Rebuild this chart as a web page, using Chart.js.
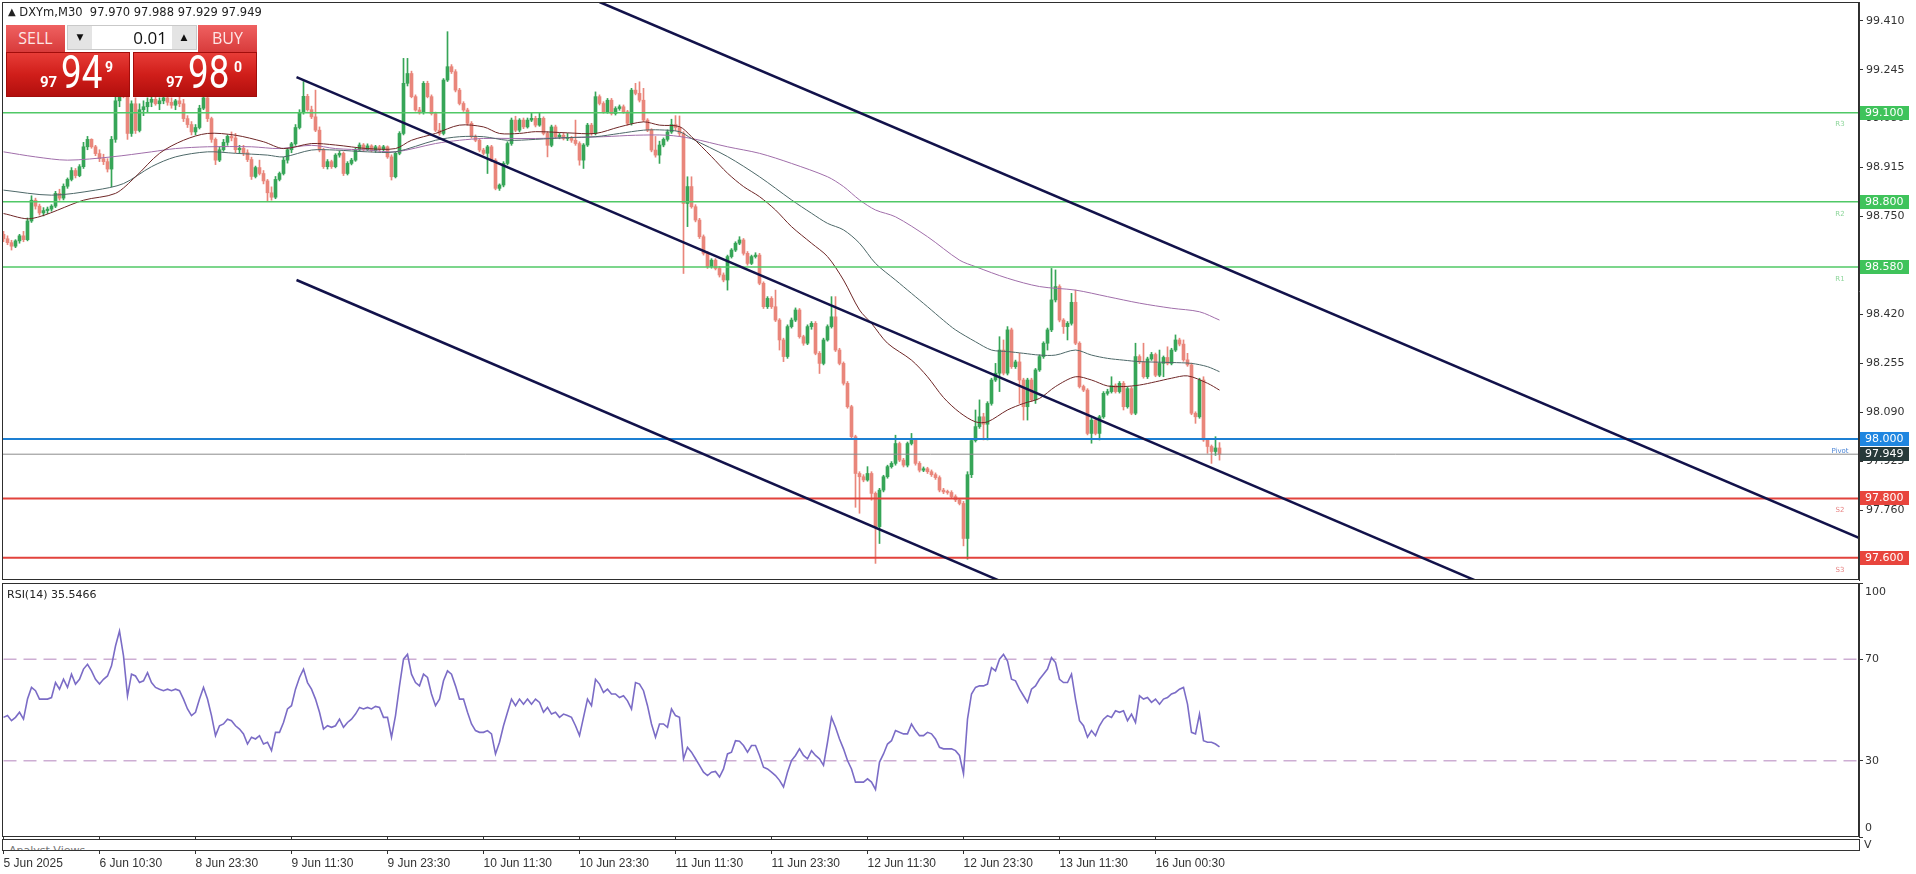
<!DOCTYPE html>
<html>
<head>
<meta charset="utf-8">
<script src="https://cdn.jsdelivr.net/npm/chart.js@4.4.1/dist/chart.umd.min.js"></script>
<style>
body { margin:0; width:1916px; height:874px; position:relative; overflow:hidden; background:#fff; font-family:'DejaVu Sans', sans-serif; }
canvas { position:absolute; left:0; }
#hdr { position:absolute; left:8px; top:5px; font-size:11.5px; color:#222; white-space:pre; }
#hdr b { font-size:10px; font-weight:normal; position:relative; top:-1px; }
#trade { position:absolute; left:6px; top:25px; width:251px; height:72px; }
.tbtn { position:absolute; top:0; width:59px; height:27px; background:linear-gradient(#ef6161,#d83b3b); color:#fde6e6; font:16px 'Open Sans', sans-serif; line-height:27px; text-align:center; }
#vol { position:absolute; left:61px; top:0; width:130px; height:25px; background:#fff; border:1px solid #c9c9c9; box-sizing:border-box; }
.arr { position:absolute; top:0; width:24px; height:23px; background:#e4e4e4; font-size:9px; line-height:23px; text-align:center; color:#111; }
#lot { position:absolute; left:24px; width:80px; top:0; height:23px; line-height:23px; text-align:right; font:17px 'Open Sans', sans-serif; color:#111; padding-right:5px; box-sizing:border-box; }
.pbox { position:absolute; top:27px; width:124px; height:45px; background:linear-gradient(#e73c37 0%, #d01e1a 50%, #b20f0d 100%); border:1px solid #a20d0b; box-sizing:border-box; color:#fff; }
.pbox span { position:absolute; font-family:'Roboto', sans-serif; line-height:1; }
.s { font-size:15px; font-weight:bold; top:22px; }
.b { font-size:46px; top:-4px; transform:scaleX(0.8); transform-origin:left top; }
.u { font-size:14px; font-weight:bold; top:7px; }
#rsiT { position:absolute; left:7px; top:588px; font-size:11px; color:#222; }
#av { position:absolute; left:2px; top:839px; width:1858px; height:12px; border:1px solid #333; box-sizing:border-box; overflow:hidden; background:#fff; }
#av span { position:absolute; left:6px; top:4px; font-size:11px; color:#777; }
#vv { position:absolute; left:1864px; top:838px; font-size:11px; color:#333; }
</style>
</head>
<body>
<canvas id="main" width="1916" height="584" style="top:0;width:1916px;height:584px"></canvas>
<canvas id="rsi" width="1916" height="292" style="top:582px;width:1916px;height:292px"></canvas>
<div id="hdr"><b>&#9650;</b> DXYm,M30  97.970 97.988 97.929 97.949</div>
<div id="trade">
  <div class="tbtn" style="left:0">SELL</div>
  <div id="vol"><div class="arr" style="left:0">&#9660;</div><div id="lot">0.01</div><div class="arr" style="right:0">&#9650;</div></div>
  <div class="tbtn" style="left:192px">BUY</div>
  <div class="pbox" style="left:0"><span class="s" style="left:33px">97</span><span class="b" style="left:54px">94</span><span class="u" style="left:98px">9</span></div>
  <div class="pbox" style="left:127px"><span class="s" style="left:32px">97</span><span class="b" style="left:54px">98</span><span class="u" style="left:100px">0</span></div>
</div>
<div id="rsiT">RSI(14) 35.5466</div>
<div id="av"><span>Analyst Views</span></div>
<div id="vv">V</div>
<script>
// time axis
const tickIdx = [0,24,48,72,96,120,144,168,192,216,240,264,288];
const tickText = ['5 Jun 2025','6 Jun 10:30','8 Jun 23:30','9 Jun 11:30','9 Jun 23:30','10 Jun 11:30','10 Jun 23:30','11 Jun 11:30','11 Jun 23:30','12 Jun 11:30','12 Jun 23:30','13 Jun 11:30','16 Jun 00:30'];
const priceTicks = [99.410,99.245,99.080,98.915,98.750,98.585,98.420,98.255,98.090,97.925,97.760,97.595];

// M30 candles, one entry per bar
const opens = [
98.690,98.675,98.662,98.650,98.668,98.685,98.672,98.735,98.805,98.785,
98.762,98.770,98.775,98.785,98.828,98.812,98.852,98.875,98.905,98.888,
98.918,98.985,99.010,98.985,98.962,98.945,98.935,98.910,99.010,99.140,
99.185,99.160,99.030,99.130,99.040,99.110,99.120,99.135,99.145,99.130,
99.140,99.150,99.135,99.125,99.140,99.130,99.080,99.060,99.035,99.050,
99.115,99.150,99.080,99.010,98.940,98.975,99.000,99.020,99.015,98.975,
98.980,98.965,98.942,98.885,98.915,98.895,98.870,98.830,98.815,98.875,
98.895,98.940,98.975,98.995,99.050,99.100,99.155,99.110,99.086,99.041,
98.974,98.918,98.935,98.918,98.957,98.963,98.895,98.929,98.940,98.974,
98.991,98.975,98.988,98.972,98.985,98.976,98.985,98.951,98.884,98.963,
99.030,99.199,99.232,99.154,99.109,99.100,99.199,99.154,99.097,99.041,
99.030,99.210,99.255,99.238,99.176,99.131,99.109,99.064,99.019,99.007,
98.974,98.963,98.985,98.940,98.845,98.856,98.929,98.996,99.075,99.041,
99.075,99.052,99.075,99.081,99.058,99.081,99.030,98.990,99.052,99.019,
99.024,99.013,99.015,99.007,98.996,98.940,98.991,99.058,99.030,99.154,
99.131,99.103,99.142,99.097,99.114,99.120,99.103,99.064,99.176,99.165,
99.142,99.075,99.041,98.974,98.957,98.991,99.010,99.035,99.060,99.050,
99.030,98.794,98.851,98.783,98.738,98.682,98.626,98.581,98.603,98.575,
98.553,98.536,98.615,98.637,98.660,98.671,98.626,98.592,98.615,98.620,
98.525,98.446,98.474,98.446,98.401,98.334,98.278,98.379,98.401,98.435,
98.345,98.323,98.379,98.390,98.289,98.255,98.334,98.379,98.412,98.300,
98.255,98.188,98.109,98.008,97.884,97.873,97.862,97.884,97.817,97.705,
97.828,97.873,97.907,97.918,97.985,97.929,97.912,97.985,97.996,97.918,
97.895,97.900,97.890,97.880,97.870,97.828,97.822,97.820,97.806,97.795,
97.783,97.665,97.880,97.995,98.042,98.075,98.050,98.120,98.199,98.222,
98.300,98.222,98.368,98.244,98.260,98.199,98.109,98.199,98.132,98.233,
98.278,98.323,98.368,98.469,98.514,98.401,98.379,98.390,98.461,98.323,
98.177,98.165,98.019,98.064,98.019,98.075,98.154,98.160,98.180,98.160,
98.188,98.109,98.170,98.087,98.278,98.260,98.210,98.270,98.285,98.215,
98.255,98.275,98.255,98.300,98.334,98.320,98.267,98.250,98.087,98.075,
98.199,97.997,97.975,97.958,97.970];
const highs = [
98.700,98.685,98.670,98.672,98.690,98.700,98.745,98.820,98.812,98.792,
98.780,98.782,98.790,98.835,98.842,98.860,98.880,98.915,98.912,98.925,
99.000,99.020,99.012,98.990,98.975,98.960,98.945,99.020,99.170,99.200,
99.205,99.170,99.140,99.150,99.130,99.140,99.150,99.160,99.160,99.150,
99.165,99.165,99.150,99.145,99.155,99.145,99.090,99.070,99.060,99.125,
99.160,99.155,99.085,99.015,98.985,99.010,99.025,99.035,99.030,98.990,
98.990,98.975,98.950,98.920,98.940,98.905,98.875,98.850,98.885,98.900,
98.950,98.980,99.000,99.060,99.110,99.205,99.162,99.122,99.176,99.052,
98.980,98.942,98.940,98.962,98.970,98.968,98.935,98.946,98.980,98.998,
98.996,98.995,98.992,98.990,98.990,98.990,98.988,98.958,98.968,99.036,
99.283,99.283,99.240,99.160,99.118,99.205,99.206,99.160,99.102,99.064,
99.215,99.373,99.262,99.245,99.182,99.137,99.115,99.070,99.025,99.012,
98.980,98.990,98.990,98.945,98.860,98.935,99.002,99.082,99.088,99.080,
99.082,99.082,99.100,99.088,99.100,99.086,99.036,99.058,99.058,99.030,
99.030,99.030,99.020,99.075,99.002,98.996,99.064,99.064,99.170,99.160,
99.137,99.148,99.148,99.120,99.126,99.126,99.108,99.182,99.199,99.204,
99.182,99.080,99.046,99.020,99.004,99.015,99.042,99.078,99.090,99.089,
99.036,98.884,98.884,98.790,98.744,98.688,98.632,98.608,98.608,98.582,
98.560,98.620,98.642,98.665,98.682,98.676,98.632,98.620,98.628,98.626,
98.530,98.480,98.480,98.502,98.406,98.340,98.385,98.408,98.442,98.440,
98.350,98.385,98.396,98.396,98.295,98.340,98.385,98.480,98.480,98.306,
98.260,98.194,98.114,98.013,97.890,97.880,97.907,97.890,97.822,97.834,
97.878,97.912,97.924,98.013,97.990,97.935,97.990,98.019,98.002,97.924,
97.906,97.905,97.896,97.886,97.876,97.834,97.828,97.826,97.812,97.800,
97.790,97.890,98.000,98.098,98.132,98.087,98.126,98.205,98.255,98.345,
98.334,98.379,98.374,98.266,98.289,98.205,98.205,98.205,98.238,98.284,
98.328,98.374,98.575,98.570,98.520,98.406,98.396,98.491,98.502,98.328,
98.182,98.170,98.070,98.070,98.080,98.160,98.168,98.210,98.186,98.194,
98.194,98.176,98.176,98.323,98.284,98.323,98.276,98.292,98.290,98.300,
98.280,98.311,98.306,98.351,98.340,98.334,98.289,98.256,98.092,98.205,
98.210,98.002,97.980,98.008,97.988];
const lows = [
98.665,98.655,98.637,98.645,98.660,98.665,98.668,98.730,98.775,98.755,
98.752,98.760,98.768,98.780,98.805,98.806,98.845,98.870,98.880,98.884,
98.912,98.975,98.980,98.955,98.935,98.925,98.900,98.850,99.000,99.120,
99.150,99.010,99.020,99.030,99.035,99.090,99.100,99.120,99.125,99.110,
99.130,99.125,99.115,99.110,99.120,99.070,99.050,99.025,99.025,99.045,
99.110,99.070,99.000,98.925,98.935,98.970,98.990,99.005,98.965,98.965,
98.955,98.935,98.875,98.880,98.890,98.860,98.800,98.805,98.810,98.870,
98.890,98.930,98.965,98.990,99.045,99.095,99.105,99.080,99.036,98.968,
98.912,98.910,98.912,98.914,98.950,98.888,98.890,98.924,98.936,98.970,
98.970,98.972,98.968,98.966,98.970,98.972,98.946,98.873,98.880,98.958,
99.025,99.190,99.150,99.105,99.095,99.095,99.150,99.092,99.036,99.024,
99.025,99.205,99.232,99.170,99.126,99.104,99.058,99.014,99.002,98.968,
98.958,98.895,98.935,98.840,98.838,98.850,98.924,98.990,99.036,99.035,
99.046,99.048,99.070,99.052,99.054,99.025,98.951,98.985,99.014,99.012,
99.008,99.006,99.000,98.990,98.923,98.912,98.986,99.024,99.025,99.126,
99.098,99.098,99.092,99.092,99.108,99.098,99.058,99.058,99.160,99.136,
99.070,99.036,98.968,98.950,98.929,98.985,99.004,99.030,99.040,99.020,
98.558,98.716,98.778,98.732,98.676,98.620,98.575,98.576,98.570,98.546,
98.530,98.502,98.610,98.632,98.655,98.620,98.586,98.588,98.610,98.520,
98.440,98.440,98.440,98.396,98.300,98.261,98.272,98.374,98.396,98.340,
98.316,98.318,98.370,98.284,98.221,98.250,98.330,98.374,98.295,98.250,
98.182,98.104,98.002,97.770,97.750,97.856,97.858,97.794,97.581,97.648,
97.822,97.868,97.902,97.912,97.924,97.906,97.906,97.980,97.912,97.889,
97.890,97.884,97.874,97.864,97.822,97.816,97.814,97.800,97.789,97.778,
97.640,97.595,97.870,97.990,98.036,97.997,97.997,98.114,98.194,98.160,
98.216,98.216,98.238,98.238,98.120,98.064,98.064,98.126,98.120,98.228,
98.272,98.300,98.362,98.462,98.395,98.356,98.334,98.384,98.318,98.172,
98.160,98.014,97.986,98.014,97.997,98.070,98.148,98.155,98.155,98.155,
98.098,98.104,98.082,98.082,98.254,98.205,98.204,98.265,98.210,98.210,
98.210,98.250,98.250,98.295,98.314,98.262,98.245,98.082,98.053,98.070,
97.992,97.952,97.918,97.945,97.929];
const closes = [
98.675,98.662,98.650,98.668,98.685,98.672,98.735,98.805,98.785,98.762,
98.770,98.775,98.785,98.828,98.812,98.852,98.875,98.905,98.888,98.918,
98.985,99.010,98.985,98.962,98.945,98.935,98.910,99.010,99.140,99.185,
99.160,99.030,99.130,99.040,99.110,99.120,99.135,99.145,99.130,99.140,
99.150,99.135,99.125,99.140,99.130,99.080,99.060,99.035,99.050,99.115,
99.150,99.080,99.010,98.940,98.975,99.000,99.020,99.015,98.975,98.980,
98.965,98.942,98.885,98.915,98.895,98.870,98.830,98.815,98.875,98.895,
98.940,98.975,98.995,99.050,99.100,99.155,99.110,99.086,99.041,98.974,
98.918,98.935,98.918,98.957,98.963,98.895,98.929,98.940,98.974,98.991,
98.975,98.988,98.972,98.985,98.976,98.985,98.951,98.884,98.963,99.030,
99.199,99.232,99.154,99.109,99.100,99.199,99.154,99.097,99.041,99.030,
99.210,99.255,99.238,99.176,99.131,99.109,99.064,99.019,99.007,98.974,
98.963,98.985,98.940,98.845,98.856,98.929,98.996,99.075,99.041,99.075,
99.052,99.075,99.081,99.058,99.081,99.030,98.990,99.052,99.019,99.024,
99.013,99.015,99.007,98.996,98.940,98.991,99.058,99.030,99.154,99.131,
99.103,99.142,99.097,99.114,99.120,99.103,99.064,99.176,99.165,99.142,
99.075,99.041,98.974,98.957,98.991,99.010,99.035,99.060,99.050,99.030,
98.794,98.851,98.783,98.738,98.682,98.626,98.581,98.603,98.575,98.553,
98.536,98.615,98.637,98.660,98.671,98.626,98.592,98.615,98.620,98.525,
98.446,98.474,98.446,98.401,98.334,98.278,98.379,98.401,98.435,98.345,
98.323,98.379,98.390,98.289,98.255,98.334,98.379,98.412,98.300,98.255,
98.188,98.109,98.008,97.884,97.873,97.862,97.884,97.817,97.705,97.828,
97.873,97.907,97.918,97.985,97.929,97.912,97.985,97.996,97.918,97.895,
97.900,97.890,97.880,97.870,97.828,97.822,97.820,97.806,97.795,97.783,
97.665,97.880,97.995,98.042,98.075,98.050,98.120,98.199,98.222,98.300,
98.222,98.368,98.244,98.260,98.199,98.109,98.199,98.132,98.233,98.278,
98.323,98.368,98.469,98.514,98.401,98.379,98.390,98.461,98.323,98.177,
98.165,98.019,98.064,98.019,98.075,98.154,98.160,98.180,98.160,98.188,
98.109,98.170,98.087,98.278,98.260,98.210,98.270,98.285,98.215,98.255,
98.275,98.255,98.300,98.334,98.320,98.267,98.250,98.087,98.075,98.199,
97.997,97.975,97.958,97.970,97.949];

// moving averages, read at sample bars
const maFastIdx = [0,7,20,28,33,39,45,51,58,65,70,77,83,91,98,102,108,114,120,124,129,133,141,148,154,160,164,169,172,177,181,185,189,193,197,202,206,210,214,217,221,227,231,235,239,243,246,251,255,259,263,268,272,276,280,284,288,292,296,301,304];
const maFast = [98.760,98.743,98.805,98.828,98.884,98.963,99.007,99.030,99.024,99.002,98.979,98.996,98.991,98.979,98.979,99.007,99.030,99.058,99.052,99.030,99.030,99.036,99.032,99.030,99.052,99.069,99.058,99.053,99.019,98.952,98.896,98.851,98.817,98.772,98.716,98.660,98.615,98.536,98.435,98.390,98.323,98.266,98.210,98.140,98.090,98.058,98.058,98.098,98.120,98.137,98.177,98.210,98.199,98.179,98.177,98.182,98.193,98.205,98.213,98.188,98.165];
const maMidIdx = [0,12,23,30,37,43,51,58,66,70,77,83,91,98,108,114,120,126,133,141,148,154,160,164,169,172,181,189,197,202,206,210,214,218,223,227,231,235,238,243,247,251,255,259,263,268,272,276,280,284,292,297,301,304];
const maMid = [98.839,98.822,98.839,98.861,98.918,98.951,98.968,98.963,98.957,98.951,98.974,98.974,98.968,98.968,99.007,99.019,99.019,99.007,99.010,99.016,99.019,99.030,99.041,99.042,99.036,99.013,98.952,98.884,98.806,98.761,98.727,98.705,98.660,98.592,98.536,98.491,98.446,98.400,98.368,98.328,98.300,98.295,98.289,98.283,98.283,98.300,98.283,98.272,98.266,98.261,98.258,98.255,98.244,98.227];
const maSlowIdx = [0,8,16,27,37,43,51,62,69,77,83,91,98,108,114,120,133,141,150,158,166,172,181,189,197,206,210,214,218,223,231,239,243,251,259,268,276,284,292,299,304];
const maSlow = [98.968,98.951,98.940,98.951,98.968,98.979,98.985,98.985,98.979,98.990,98.979,98.974,98.968,98.996,99.007,99.013,99.013,99.016,99.019,99.024,99.024,99.013,98.985,98.963,98.929,98.884,98.851,98.806,98.772,98.749,98.682,98.603,98.581,98.542,98.514,98.502,98.480,98.458,98.441,98.429,98.401];

// pivot levels and price lines
const levelValues = [99.100, 98.800, 98.580, 98.000, 97.800, 97.600];
const levelNames = ['R3', 'R2', 'R1', 'Pivot', 'S2', 'S3'];
const bidPrice = 97.949;

// trend channel: start bar, start price, end bar, end price
const chanX1 = [149, 73.25, 73.25];
const chanY1 = [99.473, 99.220, 98.536];
const chanX2 = [466, 375, 255];
const chanY2 = [97.655, 97.483, 97.488];

// RSI(14), one entry per bar
const rsiValues = [
47.1,47.8,45.8,47.1,49.1,46.4,54.3,58.9,57.6,54.3,
54.3,54.3,54.9,60.8,58.2,62.1,58.9,64.1,60.2,62.1,
66.1,68.0,65.4,62.1,60.2,62.1,63.4,67.4,75.2,81.1,
71.3,55.6,64.1,63.4,60.8,61.5,64.7,60.8,58.9,58.2,
57.6,58.2,57.6,58.2,57.6,54.3,50.4,47.8,49.1,54.3,
58.9,54.3,47.8,39.9,43.8,44.5,46.4,45.8,43.8,42.5,
40.6,36.6,39.3,38.6,39.9,36.6,37.3,34.0,41.2,41.2,
45.1,50.4,51.7,58.2,62.8,66.1,60.8,58.2,54.3,49.1,
42.5,43.8,43.2,43.8,46.4,43.2,45.1,46.4,48.4,51.0,
50.4,51.0,50.4,51.4,51.0,47.1,47.1,39.3,47.8,59.5,
70.0,71.9,64.1,60.8,59.5,64.1,62.8,56.3,51.7,54.3,
61.5,65.4,64.1,59.5,54.3,54.3,49.1,44.5,41.9,41.2,
41.2,41.9,40.6,32.7,37.3,43.8,49.1,54.3,51.7,54.3,
52.3,54.3,52.3,54.3,53.0,49.1,51.0,48.4,49.1,47.1,
48.4,47.8,47.1,43.8,39.9,47.1,54.3,51.7,62.1,60.2,
56.9,58.2,56.3,56.3,54.9,55.6,53.6,50.4,60.8,60.2,
57.6,51.7,44.5,39.3,44.5,44.5,43.2,50.4,47.8,47.1,
30.8,35.3,33.4,30.8,28.2,25.5,24.2,25.5,25.8,23.6,
26.8,32.7,33.4,37.9,37.7,36.0,33.4,36.0,36.0,32.1,
27.5,26.8,25.5,24.2,22.3,19.7,25.5,30.1,32.1,34.7,
32.1,30.8,34.0,32.1,30.8,28.2,37.3,47.1,43.2,38.6,
34.7,30.1,26.8,21.6,21.6,21.6,22.9,21.6,18.7,29.5,
32.7,36.6,37.9,41.9,41.2,40.6,40.6,44.5,41.9,39.9,
39.9,41.2,40.6,38.6,35.3,34.7,34.7,34.7,34.0,32.1,
24.9,46.4,56.3,58.9,59.5,59.5,60.2,66.7,65.4,70.0,
71.9,69.3,62.1,61.5,58.2,55.6,53.0,58.2,59.5,62.1,
64.1,66.1,70.6,68.7,62.1,60.8,60.8,64.1,54.3,45.8,
43.8,39.3,41.9,39.9,43.8,46.4,47.8,47.1,49.7,49.1,
49.7,45.8,48.4,45.1,55.6,54.3,54.9,53.0,54.3,52.3,
54.3,54.9,56.3,56.9,58.2,58.9,52.3,41.2,40.6,48.4,
37.9,37.3,37.3,36.6,35.5];
const rsiLevels = [70, 30];
const rsiTicks = [100, 70, 30, 0];

// ---- styling ----
const BULL = '#36a557', BEAR = '#e9867b';
const GREEN = '#50c866', BLUE = '#1d7fd2', RED = '#e2433c';
const levelColors = [GREEN, GREEN, GREEN, BLUE, RED, RED];
const levelWidths = [1.5, 1.5, 1.5, 2, 2, 2];
const levelTextColors = ['#8ed69b', '#8ed69b', '#8ed69b', '#4d86d6', '#e88585', '#e88585'];
const tagColors = ['#3fc35b', '#3fc35b', '#3fc35b', '#1f86e0', '#e8453d', '#e8453d'];
const X_MIN = -0.375, X_MAX = 463.875;

const pts = (idx, vals) => idx.map((x, k) => ({ x: x, y: vals[k] }));
const candleColor = c => closes[c.dataIndex] >= opens[c.dataIndex] ? BULL : BEAR;
const hline = (v, color, w) => ({ type: 'line', data: [{ x: -5, y: v }, { x: 470, y: v }], borderColor: color, borderWidth: w, pointRadius: 0, clip: 0, order: 1 });
// keep the plot area where we put it: no extra room for edge labels
const noPad = s => { s.paddingTop = 0; s.paddingBottom = 0; s.paddingLeft = 0; s.paddingRight = 0; };

const frame = {
  id: 'frame',
  afterDraw(chart) {
    const a = chart.chartArea, c = chart.ctx;
    c.save();
    c.strokeStyle = '#2e2e2e';
    c.lineWidth = 1;
    c.strokeRect(Math.round(a.left) + 0.5, Math.round(a.top) + 0.5, Math.round(a.right - a.left) - 1, Math.round(a.bottom - a.top) - 1);
    c.restore();
  }
};

const priceTags = {
  id: 'priceTags',
  afterDraw(chart) {
    const c = chart.ctx, y = chart.scales.y, a = chart.chartArea;
    c.save();
    // small pivot names under each level
    c.font = '7px "DejaVu Sans"';
    c.textAlign = 'center';
    c.textBaseline = 'middle';
    levelValues.forEach((v, k) => {
      c.fillStyle = levelTextColors[k];
      c.fillText(levelNames[k], a.right - 19, y.getPixelForValue(v) + 12);
    });
    // tags on the price axis
    const tags = levelValues.map((v, k) => [v, tagColors[k]]);
    tags.push([bidPrice, '#273a3a']);
    c.font = '11px "DejaVu Sans"';
    c.textAlign = 'left';
    tags.forEach(t => {
      const py = Math.round(y.getPixelForValue(t[0]));
      c.fillStyle = t[1];
      c.fillRect(a.right + 1, py - 7, 49, 14);
      c.fillStyle = '#fff';
      c.fillText(t[0].toFixed(3), a.right + 6, py + 0.5);
    });
    c.restore();
  }
};

const datasets = [];
levelValues.forEach((v, k) => datasets.push(hline(v, levelColors[k], levelWidths[k])));
datasets.push(hline(bidPrice, '#8c8c8c', 1));
chanX1.forEach((x, k) => datasets.push({ type: 'line', data: [{ x: x, y: chanY1[k] }, { x: chanX2[k], y: chanY2[k] }], borderColor: '#12124a', borderWidth: 2.5, pointRadius: 0, clip: 0, order: 0 }));
datasets.push({ type: 'line', data: pts(maFastIdx, maFast), borderColor: '#6e2626', borderWidth: 1, pointRadius: 0, tension: 0.3, clip: 0, order: 5 });
datasets.push({ type: 'line', data: pts(maMidIdx, maMid), borderColor: '#4d6868', borderWidth: 1, pointRadius: 0, tension: 0.3, clip: 0, order: 5 });
datasets.push({ type: 'line', data: pts(maSlowIdx, maSlow), borderColor: '#a06eaa', borderWidth: 1, pointRadius: 0, tension: 0.3, clip: 0, order: 5 });
datasets.push({ type: 'bar', data: closes.map((c, i) => ({ x: i, y: [lows[i], highs[i]] })), backgroundColor: candleColor, barThickness: 1, grouped: false, minBarLength: 1, order: 20 });
datasets.push({ type: 'bar', data: closes.map((c, i) => ({ x: i, y: [opens[i], c] })), backgroundColor: candleColor, barThickness: 3, grouped: false, minBarLength: 1, order: 19 });

new Chart(document.getElementById('main'), {
  type: 'bar',
  data: { datasets: datasets },
  options: {
    responsive: false,
    animation: false,
    devicePixelRatio: 1,
    layout: { padding: { top: 2, left: 2, right: 0, bottom: 4 } },
    plugins: { legend: { display: false }, tooltip: { enabled: false } },
    scales: {
      x: { type: 'linear', min: X_MIN, max: X_MAX, offset: false, display: false, grid: { offset: false } },
      y: {
        position: 'right', min: 97.525, max: 99.473,
        afterFit: s => { s.width = 57; noPad(s); },
        afterBuildTicks: s => { s.ticks = priceTicks.map(v => ({ value: v })); },
        ticks: { autoSkip: false, padding: 3, color: '#333', font: { family: 'DejaVu Sans', size: 11 }, callback: v => v.toFixed(3) },
        grid: { drawOnChartArea: false, tickLength: 4, color: '#333' },
        border: { color: '#333' }
      }
    }
  },
  plugins: [frame, priceTags]
});

const rsiLabels = {
  id: 'rsiLabels',
  afterDraw(chart) {
    const c = chart.ctx, y = chart.scales.y, a = chart.chartArea;
    c.save();
    c.font = '11px "DejaVu Sans"';
    c.fillStyle = '#333';
    c.textBaseline = 'middle';
    rsiTicks.forEach(v => {
      let py = y.getPixelForValue(v);
      if (v === 100) py += 9;
      if (v === 0) py -= 9;
      c.fillText(String(v), a.right + 6, py);
    });
    c.restore();
  }
};

const rsiSets = rsiLevels.map(v => ({ type: 'line', data: [{ x: -5, y: v }, { x: 470, y: v }], borderColor: '#cdaed3', borderWidth: 1.5, borderDash: [13, 7], pointRadius: 0, clip: 0, order: 2 }));
rsiSets.push({ type: 'line', data: rsiValues.map((v, i) => ({ x: i, y: v })), borderColor: '#7b6cc6', borderWidth: 1.6, pointRadius: 0, clip: 0, order: 1 });

new Chart(document.getElementById('rsi'), {
  type: 'line',
  data: { datasets: rsiSets },
  options: {
    responsive: false,
    animation: false,
    devicePixelRatio: 1,
    layout: { padding: { top: 1, left: 2, right: 0, bottom: 0 } },
    plugins: { legend: { display: false }, tooltip: { enabled: false } },
    scales: {
      x: {
        type: 'linear', min: X_MIN, max: X_MAX, offset: false,
        afterFit: s => { s.height = 37; noPad(s); },
        afterBuildTicks: s => { s.ticks = tickIdx.map(v => ({ value: v })); },
        ticks: { autoSkip: false, maxRotation: 0, align: 'start', padding: 2, color: '#333', font: { family: 'Liberation Sans', size: 12 }, callback: (v, k) => tickText[k] },
        grid: { drawOnChartArea: false, tickLength: 17, color: '#333', offset: false },
        border: { display: false }
      },
      y: {
        position: 'right', min: 0, max: 100,
        afterFit: s => { s.width = 57; noPad(s); },
        afterBuildTicks: s => { s.ticks = rsiTicks.map(v => ({ value: v })); },
        ticks: { display: false },
        grid: { drawOnChartArea: false, tickLength: 4, color: '#333' },
        border: { color: '#333' }
      }
    }
  },
  plugins: [frame, rsiLabels]
});
</script>
</body>
</html>
